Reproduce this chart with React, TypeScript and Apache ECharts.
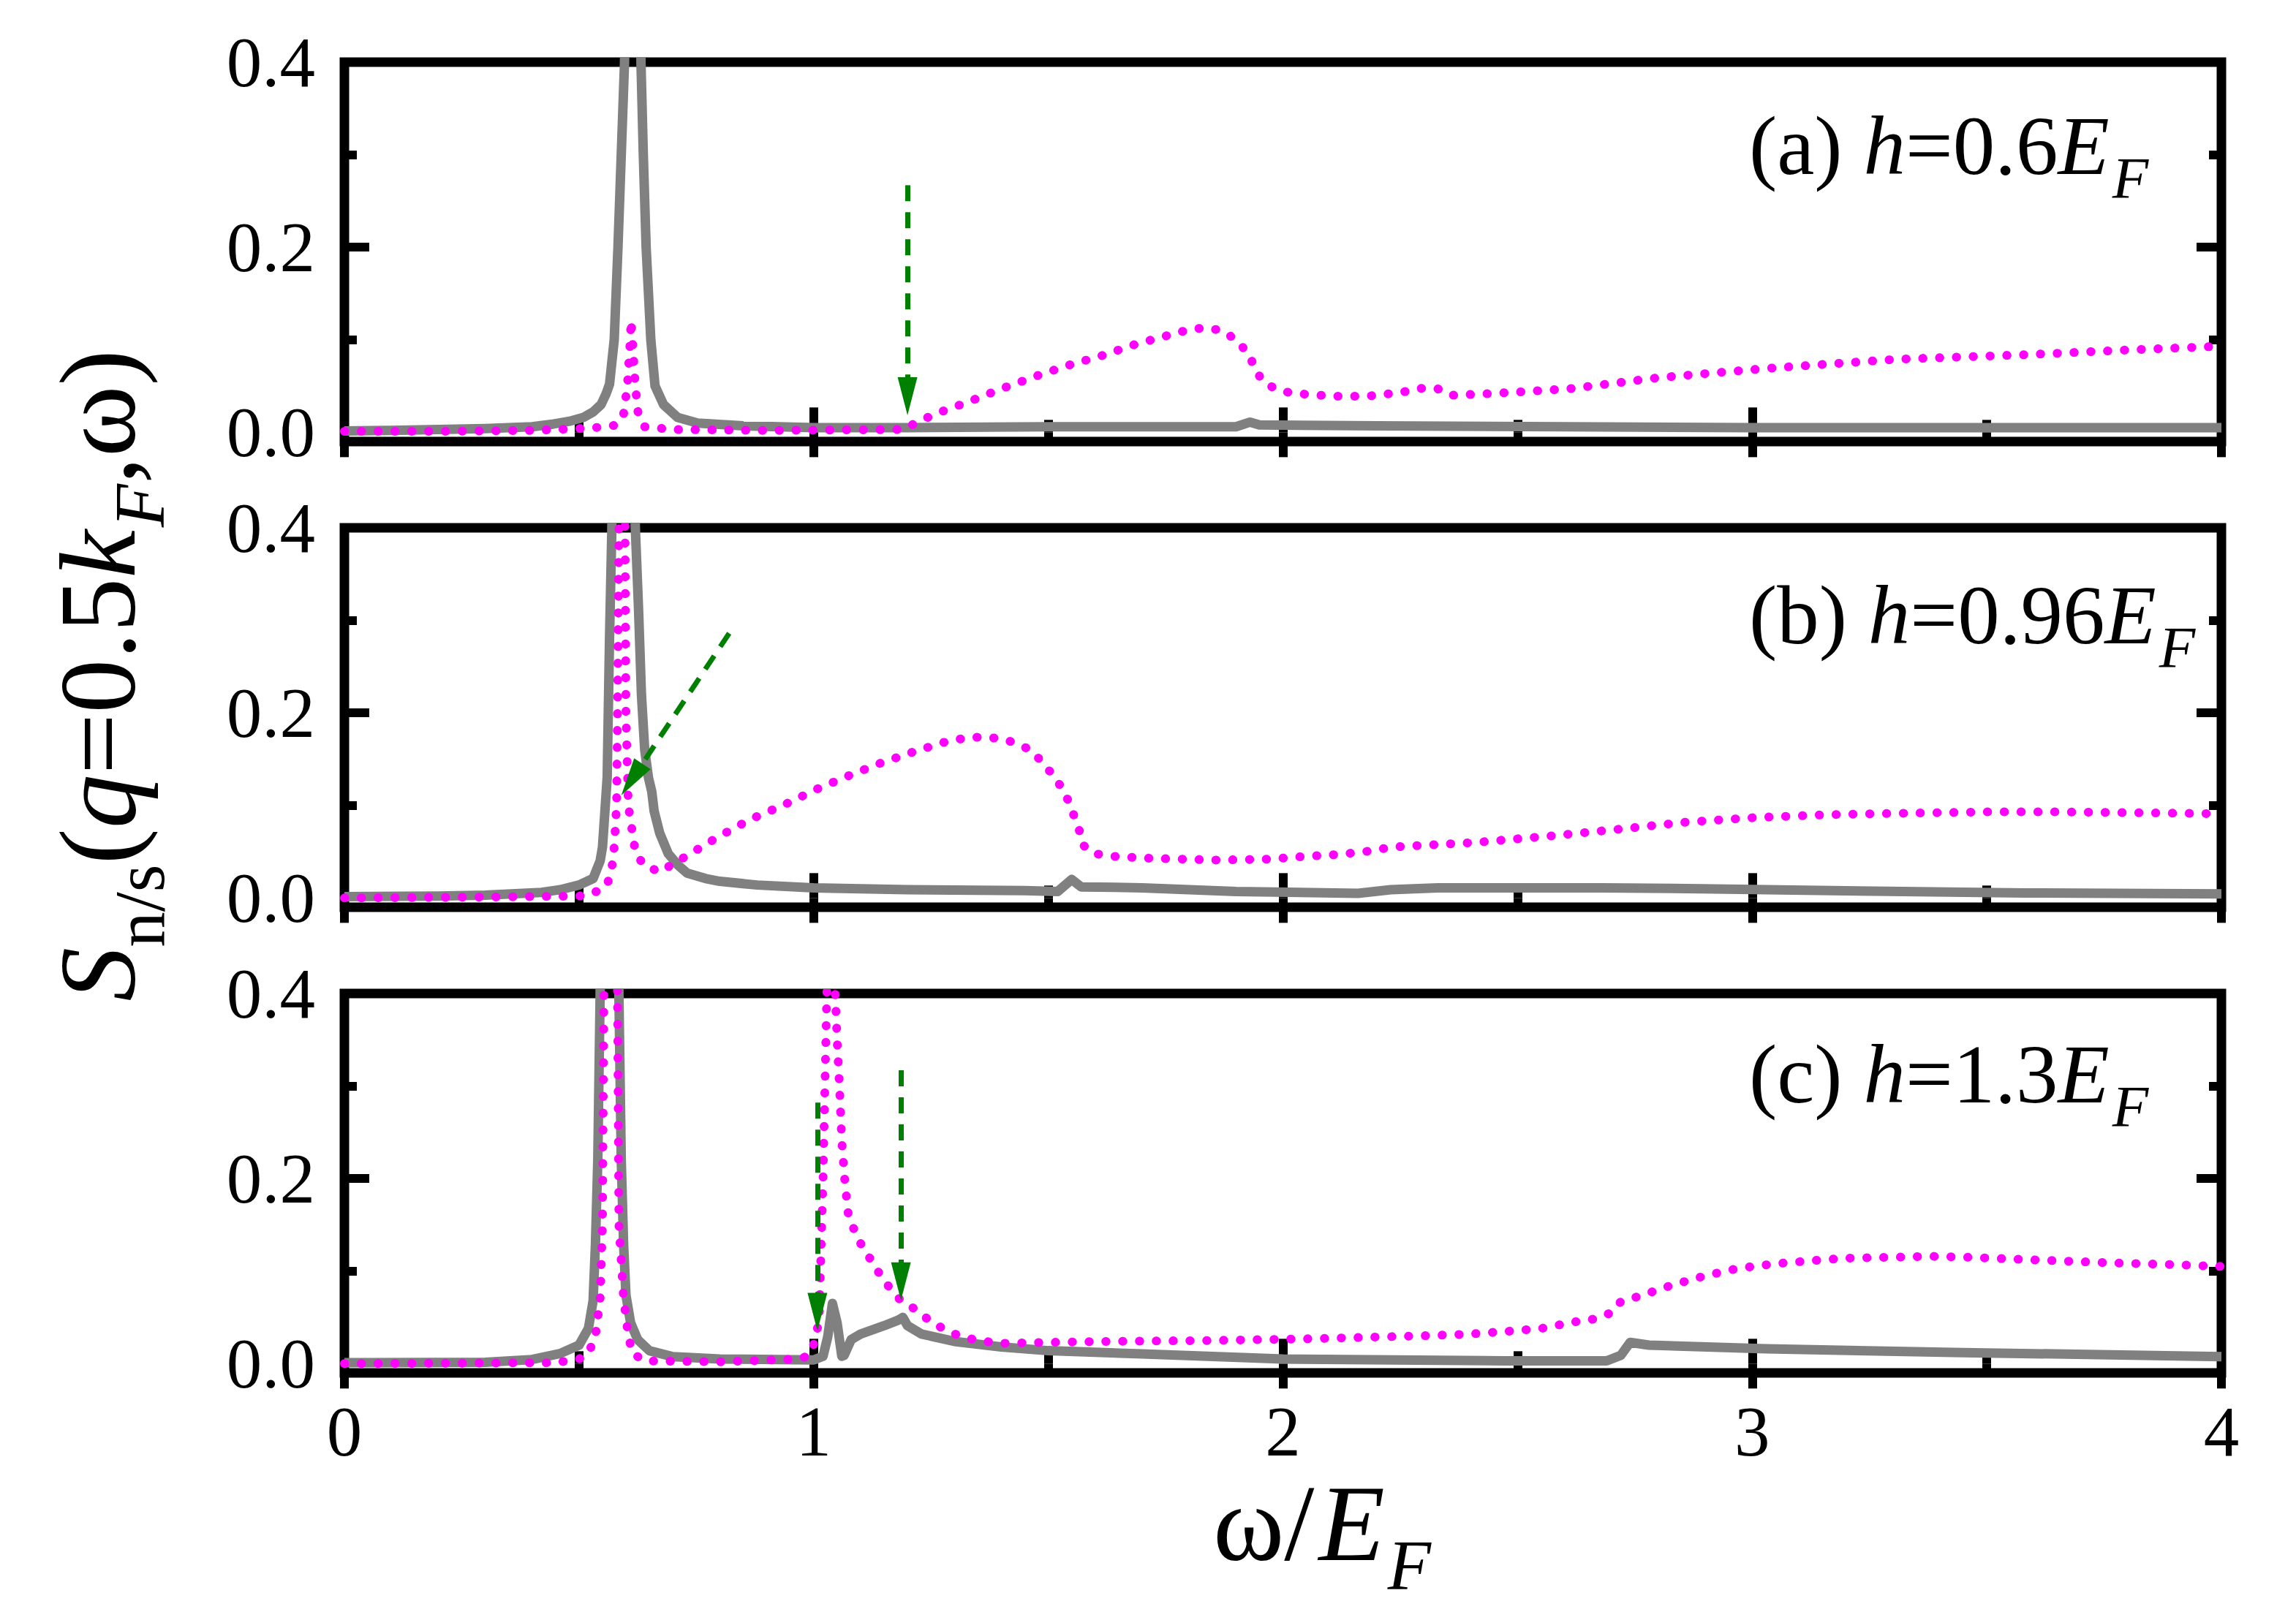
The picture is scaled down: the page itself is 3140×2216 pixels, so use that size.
import React, { useEffect, useRef } from "react";
import * as echarts from "echarts";

const FONT = "Liberation Serif";

// x ticks / y ticks
const xTickInterval = 1;
const yLabelValues = [0, 0.2, 0.4];
const yMajorTicks = [0.2, 0.4];
const yMinorTicks = [0.1, 0.3];

// Panel (a) h=0.6E_F
const grayA = [
  [0, 0.0015], [0.1, 0.002], [0.2, 0.003], [0.3, 0.004], [0.4, 0.006], [0.446, 0.009], [0.48, 0.012],
  [0.509, 0.016], [0.53, 0.022], [0.547, 0.03], [0.558, 0.042], [0.565, 0.052], [0.575, 0.1], [0.583, 0.2],
  [0.59, 0.3], [0.597, 0.4], [0.605, 0.8], [0.615, 1.5], [0.625, 0.8], [0.632, 0.4], [0.637, 0.3],
  [0.643, 0.2], [0.653, 0.1], [0.662, 0.05], [0.68, 0.03], [0.71, 0.016], [0.753, 0.01], [0.85, 0.007],
  [1.0, 0.005], [1.2, 0.005], [1.5, 0.006], [1.9, 0.006], [1.93, 0.011], [1.95, 0.008], [2.2, 0.007],
  [2.6, 0.006], [3.0, 0.005], [3.5, 0.005], [4.0, 0.005],
];
const magA = [
  [0, 0.001], [0.2, 0.001], [0.4, 0.002], [0.5, 0.004], [0.56, 0.006], [0.58, 0.008], [0.595, 0.02],
  [0.603, 0.05], [0.608, 0.09], [0.611, 0.121], [0.615, 0.09], [0.62, 0.05], [0.626, 0.02], [0.64, 0.006],
  [0.7, 0.003], [0.9, 0.002], [1.19, 0.003], [1.225, 0.012], [1.26, 0.02], [1.33, 0.033], [1.4, 0.047],
  [1.47, 0.06], [1.54, 0.072], [1.615, 0.083], [1.685, 0.095], [1.757, 0.105], [1.8, 0.111], [1.834, 0.113],
  [1.87, 0.11], [1.9, 0.1], [1.93, 0.083], [1.94, 0.067], [1.964, 0.052], [2.0, 0.044], [2.05, 0.041],
  [2.11, 0.039], [2.18, 0.039], [2.25, 0.043], [2.3, 0.048], [2.33, 0.047], [2.36, 0.04], [2.45, 0.042],
  [2.61, 0.047], [2.8, 0.059], [3.03, 0.069], [3.31, 0.079], [3.59, 0.084], [3.8, 0.089], [4.0, 0.093],
];

// Panel (b) h=0.96E_F
const grayB = [
  [0, 0.0015], [0.2, 0.002], [0.3, 0.003], [0.42, 0.006], [0.46, 0.009], [0.5, 0.014], [0.53, 0.021],
  [0.545, 0.04], [0.55, 0.055], [0.56, 0.13], [0.565, 0.28], [0.57, 0.4], [0.58, 0.9], [0.595, 1.5],
  [0.61, 0.9], [0.62, 0.4], [0.627, 0.31], [0.633, 0.22], [0.64, 0.16], [0.648, 0.13], [0.655, 0.115],
  [0.66, 0.094], [0.672, 0.07], [0.69, 0.048], [0.71, 0.036], [0.73, 0.027], [0.77, 0.021], [0.8, 0.018],
  [0.88, 0.014], [1.0, 0.011], [1.2, 0.009], [1.45, 0.008], [1.52, 0.007], [1.55, 0.02], [1.57, 0.012],
  [1.7, 0.011], [1.9, 0.007], [2.16, 0.005], [2.23, 0.009], [2.33, 0.011], [2.68, 0.011], [2.89, 0.01],
  [3.17, 0.008], [3.58, 0.0055], [4.0, 0.0045],
];
const magB = [
  [0, 0.0], [0.3, 0.001], [0.5, 0.002], [0.53, 0.005], [0.56, 0.014], [0.57, 0.033], [0.575, 0.055],
  [0.58, 0.1], [0.582, 0.2], [0.585, 0.4], [0.591, 0.8], [0.598, 0.4], [0.6, 0.2], [0.605, 0.1],
  [0.614, 0.07], [0.62, 0.05], [0.637, 0.036], [0.672, 0.028], [0.704, 0.038], [0.735, 0.047], [0.77, 0.058],
  [0.8, 0.067], [0.865, 0.085], [0.934, 0.1], [1.004, 0.117], [1.074, 0.132], [1.144, 0.146], [1.213, 0.158],
  [1.283, 0.169], [1.325, 0.173], [1.363, 0.174], [1.4, 0.172], [1.434, 0.167], [1.465, 0.159], [1.49, 0.145],
  [1.516, 0.129], [1.537, 0.112], [1.55, 0.095], [1.565, 0.076], [1.572, 0.058], [1.597, 0.048], [1.64, 0.045],
  [1.715, 0.043], [1.86, 0.041], [1.97, 0.042], [2.05, 0.045], [2.12, 0.047], [2.19, 0.051], [2.23, 0.055],
  [2.3, 0.057], [2.41, 0.06], [2.57, 0.067], [2.71, 0.074], [2.86, 0.082], [3.01, 0.087], [3.16, 0.09],
  [3.31, 0.0915], [3.5, 0.093], [3.65, 0.093], [3.84, 0.092], [4.0, 0.091],
];

// Panel (c) h=1.3E_F
const grayC = [
  [0, 0.001], [0.3, 0.0015], [0.4, 0.0045], [0.46, 0.011], [0.5, 0.02], [0.52, 0.038], [0.53, 0.068],
  [0.535, 0.129], [0.54, 0.22], [0.545, 0.4], [0.555, 0.9], [0.565, 1.5], [0.575, 0.9], [0.585, 0.4],
  [0.59, 0.22], [0.595, 0.129], [0.6, 0.074], [0.61, 0.044], [0.625, 0.026], [0.65, 0.014], [0.7, 0.0075],
  [0.8, 0.005], [1.0, 0.004], [1.02, 0.008], [1.03, 0.029], [1.04, 0.065], [1.05, 0.044], [1.06, 0.008],
  [1.065, 0.009], [1.08, 0.026], [1.1, 0.032], [1.15, 0.041], [1.18, 0.047], [1.19, 0.05], [1.2, 0.041],
  [1.23, 0.032], [1.3, 0.024], [1.4, 0.018], [1.5, 0.014], [1.7, 0.0106], [2.0, 0.005], [2.47, 0.003],
  [2.69, 0.003], [2.72, 0.009], [2.74, 0.023], [2.78, 0.02], [3.03, 0.016], [3.45, 0.012], [4.0, 0.0076],
];
const magC = [
  [0, 0.0], [0.45, 0.001], [0.5, 0.005], [0.52, 0.011], [0.535, 0.03], [0.545, 0.07], [0.55, 0.15],
  [0.553, 0.4], [0.567, 1.0], [0.582, 0.4], [0.585, 0.15], [0.595, 0.07], [0.605, 0.03], [0.614, 0.011],
  [0.64, 0.003], [0.8, 0.002], [0.97, 0.005], [0.99, 0.009], [1.005, 0.027], [1.012, 0.053], [1.02, 0.2],
  [1.028, 0.4], [1.038, 0.6], [1.046, 0.4], [1.05, 0.35], [1.055, 0.3], [1.06, 0.24], [1.066, 0.2],
  [1.074, 0.16], [1.09, 0.14], [1.106, 0.124], [1.125, 0.11], [1.144, 0.094], [1.165, 0.08], [1.188, 0.067],
  [1.22, 0.058], [1.25, 0.045], [1.28, 0.037], [1.31, 0.03], [1.35, 0.025], [1.4, 0.022], [1.5, 0.023],
  [1.62, 0.024], [1.84, 0.025], [2.07, 0.027], [2.29, 0.03], [2.4, 0.032], [2.48, 0.035], [2.55, 0.038],
  [2.62, 0.045], [2.66, 0.048], [2.7, 0.055], [2.72, 0.067], [2.76, 0.073], [2.83, 0.085], [2.9, 0.095],
  [2.97, 0.103], [3.05, 0.108], [3.12, 0.111], [3.2, 0.114], [3.3, 0.115], [3.38, 0.116], [3.46, 0.115],
  [3.61, 0.112], [3.76, 0.109], [3.9, 0.107], [4.0, 0.105],
];

// Arrows: [tailX, tailY, headCenterX, headCenterY]
const arrowsA = [[1.2, 0.267, 1.2, 0.039]];
const arrowsB = [[0.82, 0.286, 0.6125, 0.128]];
const arrowsC = [[1.008, 0.282, 1.008, 0.056], [1.186, 0.317, 1.186, 0.089]];

const panelLabels = [
  { id: "(a) ", h: "=0.6" },
  { id: "(b) ", h: "=0.96" },
  { id: "(c) ", h: "=1.3" },
];

const panels = [
  { gray: grayA, mag: magA, arrows: arrowsA },
  { gray: grayB, mag: magB, arrows: arrowsB },
  { gray: grayC, mag: magC, arrows: arrowsC },
];

const GRID_LEFT = 471;
const GRID_WIDTH = 2567;
const GRID_TOPS = [85, 722, 1359];
const GRID_HEIGHT = 519;
const ANN_Y = [199, 841, 1469];

const TICK_W = 12;
const MAJ_LEN = 34;
const MIN_LEN = 17;

function buildOption() {
  const grid: any[] = [];
  const xAxis: any[] = [];
  const yAxis: any[] = [];
  const series: any[] = [];

  panels.forEach((p, i) => {
    grid.push({
      left: GRID_LEFT,
      top: GRID_TOPS[i],
      width: GRID_WIDTH,
      height: GRID_HEIGHT,
      show: true,
      borderColor: "#000",
      borderWidth: 13,
      backgroundColor: "transparent",
      containLabel: false,
      outerBoundsMode: "none",
    });
    const xBase = {
      type: "value",
      gridIndex: i,
      min: 0,
      max: 4,
      interval: xTickInterval,
      axisLine: { show: false },
      splitLine: { show: false },
      axisTick: { show: true, inside: true, length: MAJ_LEN, lineStyle: { color: "#000", width: TICK_W } },
      minorTick: { show: true, splitNumber: 2, length: MIN_LEN, lineStyle: { color: "#000", width: TICK_W } },
      minorSplitLine: { show: false },
    };
    xAxis.push({
      ...xBase,
      position: "bottom",
      axisLabel: {
        show: i === 2,
        fontFamily: FONT,
        fontSize: 97,
        color: "#000",
        margin: 32,
      },
    });
    xAxis.push({ ...xBase, position: "top", axisLabel: { show: false } });

    const yBase = {
      type: "value",
      gridIndex: i,
      min: -0.01,
      max: 0.4,
      axisLine: { show: false },
      splitLine: { show: false },
    };
    const mkY = (position: string, ticks: number[], len: number, labels: boolean) => ({
      ...yBase,
      position,
      axisTick: {
        show: true,
        inside: true,
        length: len,
        customValues: ticks,
        lineStyle: { color: "#000", width: TICK_W },
      },
      axisLabel: labels
        ? {
            show: true,
            customValues: yLabelValues,
            formatter: (v: number) => v.toFixed(1),
            fontFamily: FONT,
            fontSize: 97,
            color: "#000",
            margin: 40,
          }
        : { show: false },
    });
    yAxis.push(mkY("left", yMajorTicks, MAJ_LEN, true));
    yAxis.push(mkY("left", yMinorTicks, MIN_LEN, false));
    yAxis.push(mkY("right", yMajorTicks, MAJ_LEN, false));
    yAxis.push(mkY("right", yMinorTicks, MIN_LEN, false));

    series.push({
      type: "line",
      xAxisIndex: i * 2,
      yAxisIndex: i * 4,
      data: p.gray,
      showSymbol: false,
      symbol: "none",
      clip: true,
      lineStyle: { color: "#808080", width: 13, join: "round" },
      z: 2,
    });
    series.push({
      type: "line",
      xAxisIndex: i * 2,
      yAxisIndex: i * 4,
      data: p.mag,
      showSymbol: false,
      symbol: "none",
      clip: true,
      lineStyle: { color: "#ff00ff", width: 12, type: [0.5, 22.5], cap: "round", join: "round" },
      z: 3,
      markLine: {
        silent: true,
        animation: false,
        symbol: ["none", "triangle"],
        symbolSize: [27, 52],
        label: { show: false },
        lineStyle: { color: "#008000", width: 7, type: [22, 15] },
        emphasis: { disabled: true },
        data: p.arrows.map((a) => [
          { coord: [a[0], a[1]] },
          { coord: [a[2], a[3]] },
        ]),
      },
    });
  });

  const annRich = {
    n: { fontFamily: FONT, fontSize: 115, color: "#000", lineHeight: 115 },
    i: { fontFamily: FONT, fontSize: 115, fontStyle: "italic", color: "#000", lineHeight: 115 },
    s: {
      fontFamily: FONT, fontSize: 81, fontStyle: "italic", color: "#000",
      padding: [90, 0, 0, 4], lineHeight: 115,
    },
  };
  const titleRich = {
    n: { fontFamily: FONT, fontSize: 148, color: "#000", lineHeight: 148 },
    i: { fontFamily: FONT, fontSize: 148, fontStyle: "italic", color: "#000", lineHeight: 148 },
    iE: { fontFamily: FONT, fontSize: 148, fontStyle: "italic", color: "#000", lineHeight: 148, padding: [0, 0, 0, 6] },
    s: { fontFamily: FONT, fontSize: 97, color: "#000", padding: [114, 0, 0, 0], lineHeight: 148 },
    si: { fontFamily: FONT, fontSize: 97, fontStyle: "italic", color: "#000", padding: [114, 0, 0, 4], lineHeight: 148 },
  };

  const graphic: any[] = panelLabels.map((l, i) => ({
    type: "text",
    x: 2392,
    y: ANN_Y[i],
    z: 10,
    style: {
      text: `{n|${l.id}}{i|h}{n|${l.h}}{i|E}{s|F}`,
      rich: annRich,
      align: "left",
      verticalAlign: "middle",
    },
  }));
  graphic.push({
    type: "text",
    x: 1808,
    y: 2084,
    z: 10,
    style: {
      text: "{n|ω/}{iE|E}{si|F}",
      rich: titleRich,
      align: "center",
      verticalAlign: "middle",
    },
  });
  graphic.push({
    type: "text",
    x: 134,
    y: 924,
    rotation: Math.PI / 2,
    z: 10,
    style: {
      text: "{i|S}{s|n/s}{n|(}{i|q}{n|=0.5}{i|k}{si|F}{n|,ω)}",
      rich: titleRich,
      align: "center",
      verticalAlign: "middle",
    },
  });

  return {
    animation: false,
    backgroundColor: "#ffffff",
    grid,
    xAxis,
    yAxis,
    series,
    graphic,
  };
}

export default function App() {
  const ref = useRef<HTMLDivElement>(null);
  useEffect(() => {
    if (!ref.current) return;
    const chart = echarts.init(ref.current, null, { renderer: "svg" });
    chart.setOption(buildOption() as any);
    return () => chart.dispose();
  }, []);
  return (
    <div
      ref={ref}
      style={{ position: "absolute", left: 0, top: 0, width: 3140, height: 2216, background: "#fff" }}
    />
  );
}
